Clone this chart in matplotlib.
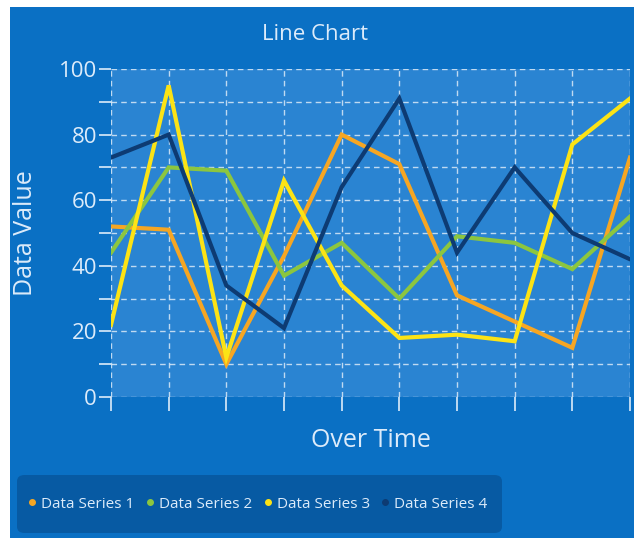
import matplotlib
matplotlib.use('Agg')
import matplotlib.pyplot as plt
from matplotlib.patches import FancyBboxPatch, Rectangle

# data
steps = list(range(10))
series_1 = [52, 51, 10, 43, 80, 71, 31, 23, 15, 73]
series_2 = [44, 70, 69, 37, 47, 30, 49, 47, 39, 55]
series_3 = [22, 95, 12, 66, 34, 18, 19, 17, 77, 91]
series_4 = [73, 80, 34, 21, 64, 91, 44, 70, 50, 42]
labels = ['Data Series 1', 'Data Series 2', 'Data Series 3', 'Data Series 4']
colors = ['#F6A623', '#8CC63F', '#FCE315', '#0D3B73']

bg = '#0A70C4'
plot_bg = '#2A84D2'
text_col = '#DCEBFA'

plt.rcParams['font.family'] = ['Open Sans', 'DejaVu Sans']

fig = plt.figure(figsize=(6.34, 5.38), dpi=100)
fig.patch.set_facecolor('white')
fig.patches.append(Rectangle((10 / 634, 0), 1, 1 - 7 / 538, transform=fig.transFigure,
                             facecolor=bg, edgecolor='none', zorder=-10))

ax = fig.add_axes([111 / 634, 1 - 397 / 538, 519 / 634, 328 / 538])
ax.set_facecolor(plot_bg)

for vals, c, lab in zip([series_1, series_2, series_3, series_4], colors, labels):
    ax.plot(steps, vals, color=c, lw=3, label=lab, solid_joinstyle='miter', zorder=3)

ax.set_xlim(0, 9)
ax.set_ylim(0, 100)
ax.set_yticks(range(0, 101, 20))
ax.set_yticks(range(10, 100, 20), minor=True)
ax.set_xticks(steps)
ax.set_xticklabels([])
ax.grid(True, which='both', color='white', alpha=0.7, ls=(0, (4, 3)), lw=1)
ax.set_axisbelow(True)
for s in ax.spines.values():
    s.set_visible(False)
ax.tick_params(axis='y', which='both', colors=text_col, length=9, width=1.2, labelsize=16, pad=1)
ax.tick_params(axis='x', colors=text_col, length=10, width=1.2)

ax.set_ylabel('Data Value', color=text_col, fontsize=18)
ax.set_xlabel('Over Time', color=text_col, fontsize=18)
ax.yaxis.set_label_coords(-0.14, 0.5)
ax.xaxis.set_label_coords(0.5, -0.095)
fig.text(0.497, 1 - 35 / 538, 'Line Chart', color=text_col, fontsize=16, ha='center', va='center')

# legend box
fig.patches.append(FancyBboxPatch((17 / 634, 1 - 533 / 538), 485 / 634, 58 / 538,
                                  boxstyle='round,pad=0,rounding_size=0.012',
                                  transform=fig.transFigure, facecolor='#075AA3',
                                  edgecolor='none', zorder=-5))
leg = fig.legend(loc='center left', bbox_to_anchor=(26 / 634, 1 - 504 / 538), ncol=4,
                 frameon=False, handlelength=0, handletextpad=0.6, columnspacing=1.0,
                 fontsize=11, labelcolor=text_col, borderaxespad=0)
for h, c in zip(leg.legend_handles, colors):
    h.set_marker('o')
    h.set_markersize(4)
    h.set_markerfacecolor(c)
    h.set_markeredgecolor(c)
    h.set_linestyle('none')

fig.savefig('out.png', dpi=100, facecolor=fig.get_facecolor())
